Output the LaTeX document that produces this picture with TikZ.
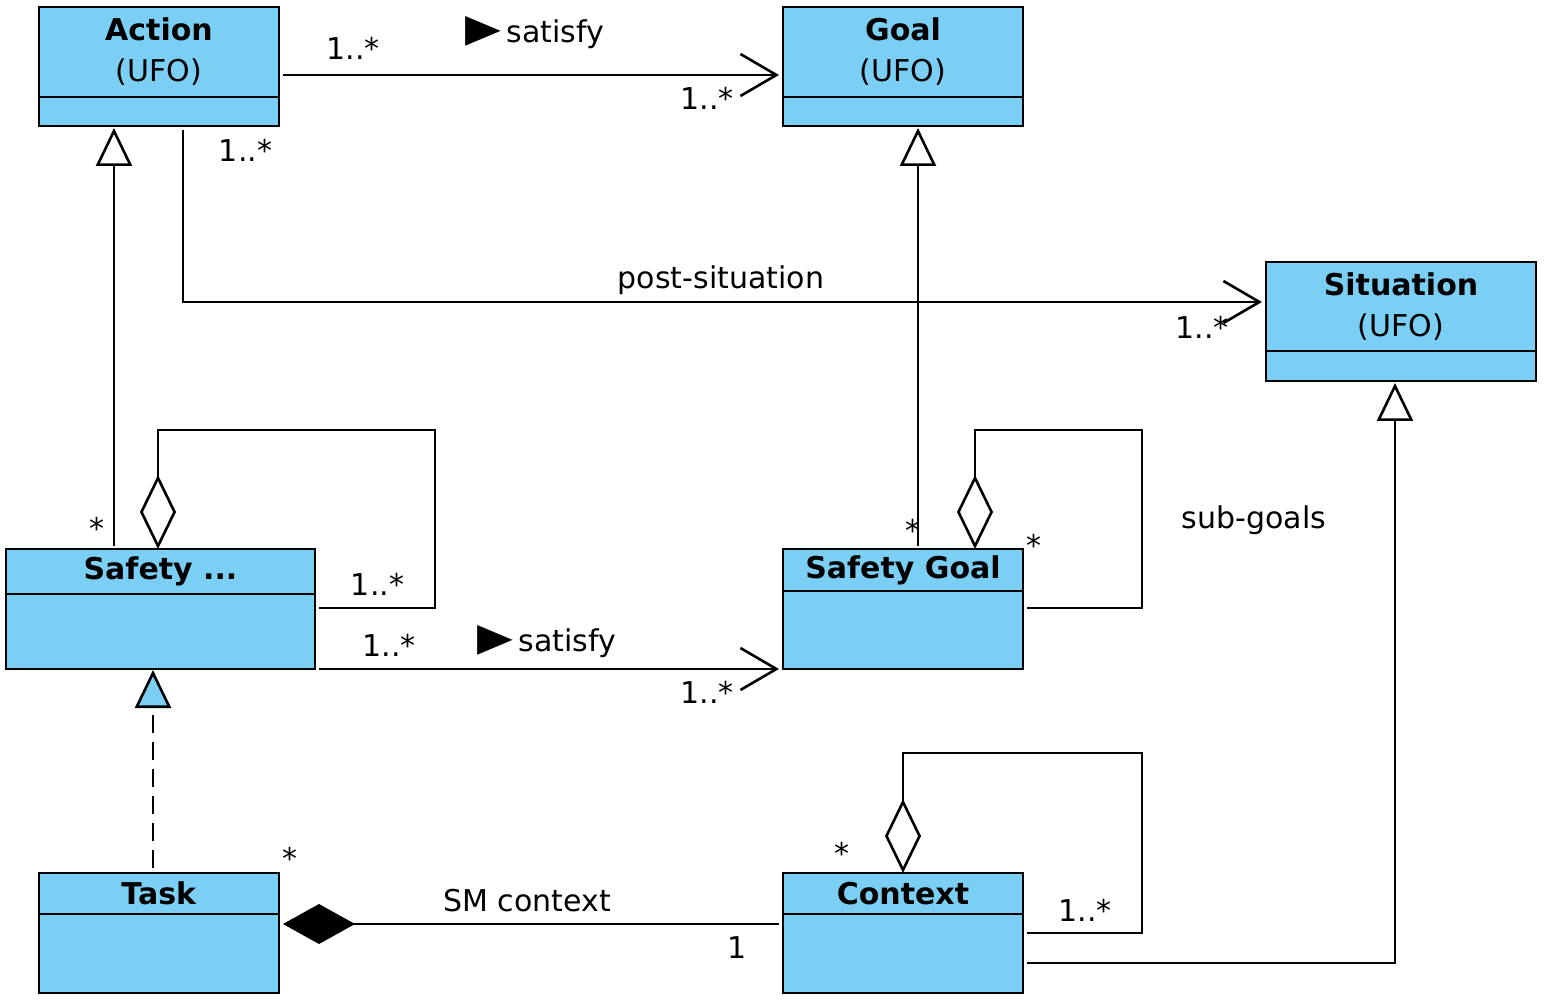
\documentclass[tikz,border=0pt]{standalone}
\usepackage{fontspec}
\setmainfont{DejaVu Sans}
\usetikzlibrary{arrows.meta}
\definecolor{ublue}{RGB}{123,207,245}
\tikzset{
  cls/.style={draw, fill=ublue, line width=1.4pt, inner sep=0pt, outer sep=0pt},
  ttl/.style={align=center, font=\fontsize{15}{20.5}\selectfont},
  lbl/.style={font=\fontsize{15}{18}\selectfont, inner sep=0pt},
  sepline/.style={line width=1.4pt},
  assoc/.style={line width=1.3pt, -{Straight Barb[length=18pt,width=21pt]}},
  gen/.style={line width=1.3pt, -{Triangle[open,length=19pt,width=18pt]}},
  real/.style={line width=1.3pt, dash pattern=on 9pt off 4.5pt, -{Triangle[length=19pt,width=18pt,fill=ublue]}},
  aggr/.style={line width=1.3pt, {Diamond[open,length=37pt,width=18pt]}-},
  comp/.style={line width=1.3pt, {Diamond[length=36pt,width=20pt]}-}
}
\newcommand{\dirmark}{\raisebox{0.5pt}{\scalebox{1.55}[1.3]{▶}}}
\begin{document}
\begin{tikzpicture}[x=0.5pt, y=-0.5pt, line join=miter]
  \useasboundingbox (0,0) rectangle (1548,1005);
  % classes
  \node[cls, minimum width=120pt, minimum height=59.5pt] (act) at (159,66.5) {};
  \node[cls, minimum width=120pt, minimum height=59.5pt] (goal) at (903,66.5) {};
  \node[cls, minimum width=135pt, minimum height=59.5pt] (sit) at (1401,321.5) {};
  \node[cls, minimum width=154.5pt, minimum height=60pt] (safa) at (160.5,609) {};
  \node[cls, minimum width=120pt, minimum height=60pt] (sg) at (903,609) {};
  \node[cls, minimum width=120pt, minimum height=60pt] (task) at (159,933) {};
  \node[cls, minimum width=120pt, minimum height=60pt] (ctx) at (903,933) {};
  \draw[sepline] ([shift={(0,90)}]act.north west) -- ([shift={(0,90)}]act.north east);
  \draw[sepline] ([shift={(0,90)}]goal.north west) -- ([shift={(0,90)}]goal.north east);
  \draw[sepline] ([shift={(0,89)}]sit.north west) -- ([shift={(0,89)}]sit.north east);
  \draw[sepline] ([shift={(0,45)}]safa.north west) -- ([shift={(0,45)}]safa.north east);
  \draw[sepline] ([shift={(0,42)}]sg.north west) -- ([shift={(0,42)}]sg.north east);
  \draw[sepline] ([shift={(0,41)}]task.north west) -- ([shift={(0,41)}]task.north east);
  \draw[sepline] ([shift={(0,41)}]ctx.north west) -- ([shift={(0,41)}]ctx.north east);
  \node[ttl] (act-t) at (159,52) {\textbf{Action}\\(UFO)};
  \node[ttl] (goal-t) at (903,52) {\textbf{Goal}\\(UFO)};
  \node[ttl] (sit-t) at (1401,307) {\textbf{Situation}\\(UFO)};
  \node[ttl] (safa-t) at (160.5,571.5) {\textbf{Safety ...}};
  \node[ttl] (sg-t) at (903,570) {\textbf{Safety Goal}};
  \node[ttl] (task-t) at (159,893.5) {\textbf{Task}};
  \node[ttl] (ctx-t) at (903,893.5) {\textbf{Context}};
  % connectors
  \draw[assoc] ([shift={(4,8.5)}]act.east) -- ([shift={(-4,8.5)}]goal.west);
  \draw[assoc] ([shift={(24,4)}]act.south) |- ([shift={(-4,-19.5)}]sit.west);
  \draw[gen] ([shift={(-46.5,-3)}]safa.north) -- ([shift={(-45,2)}]act.south);
  \draw[gen] ([shift={(15,-3)}]sg.north) -- ([shift={(15,2)}]goal.south);
  \draw[aggr] ([shift={(-2.5,0)}]safa.north) -- ++(0,-119) -| ([shift={(120,-1)}]safa.east) -- ([shift={(4,-1)}]safa.east);
  \draw[assoc] ([shift={(4,60)}]safa.east) -- ([shift={(-4,60)}]sg.west);
  \draw[aggr] ([shift={(72,0)}]sg.north) -- ++(0,-119) -| ([shift={(119,-1)}]sg.east) -- ([shift={(4,-1)}]sg.east);
  \draw[real] ([shift={(-6,-5)}]task.north) -- ([shift={(-7.5,1)}]safa.south);
  \draw[comp] ([shift={(4,-9)}]task.east) -- ([shift={(-4,-9)}]ctx.west);
  \draw[aggr] (ctx.north) -- ++(0,-120) -| ([shift={(119,0)}]ctx.east) -- ([shift={(4,0)}]ctx.east);
  \draw[gen] ([shift={(4,30)}]ctx.east) -| ([shift={(-6,2)}]sit.south);
  % labels
  \node[lbl] (m1) at (353,48) {1..*};
  \node[lbl] (m2) at (707,98) {1..*};
  \node[lbl] (sat1) at (535,33) {\dirmark\,satisfy};
  \node[lbl] (m3) at (245.5,150) {1..*};
  \node[lbl] (post) at (721,280) {post-situation};
  \node[lbl] (m4) at (1202,327) {1..*};
  \node[lbl] (m5) at (97,528) {*};
  \node[lbl] (m6) at (913,530) {*};
  \node[lbl] (m7) at (377.5,584) {1..*};
  \node[lbl] (m8) at (389,645) {1..*};
  \node[lbl] (sat2) at (547,642) {\dirmark\,satisfy};
  \node[lbl] (m9) at (707,692) {1..*};
  \node[lbl] (m10) at (1034,545) {*};
  \node[lbl] (sub) at (1254,520) {sub-goals};
  \node[lbl] (smc) at (527,901) {SM context};
  \node[lbl] (m11) at (737,948) {1};
  \node[lbl] (m12) at (290,858) {*};
  \node[lbl] (m13) at (1085,910) {1..*};
  \node[lbl] (m14) at (842,853) {*};
\end{tikzpicture}
\end{document}
